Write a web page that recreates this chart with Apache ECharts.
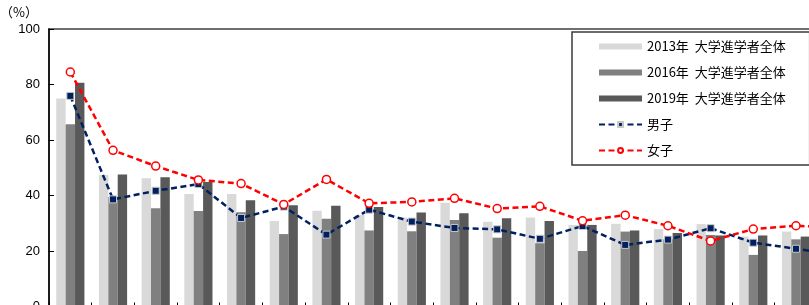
<!DOCTYPE html>
<html>
<head>
<meta charset="utf-8">
<script src="https://cdn.jsdelivr.net/npm/echarts@6/dist/echarts.min.js"></script>
<style>
  html, body { margin: 0; padding: 0; background: #fff; }
  #chart { width: 809px; height: 305px; }
</style>
</head>
<body>
<div id="chart"></div>
<script>
// categories (names are below the visible area of the picture)
const categories = ['1', '2', '3', '4', '5', '6', '7', '8', '9', '10',
    '11', '12', '13', '14', '15', '16', '17', '18', '19'];
const seriesNames = ['2013年  大学進学者全体', '2016年  大学進学者全体', '2019年  大学進学者全体', '男子', '女子'];
const yTicks = [0, 20, 40, 60, 80, 100];

const all2013 = [75.0, 47.4, 46.2, 40.5, 40.5, 30.8, 34.5, 33.0, 32.1, 37.4, 30.5, 32.1, 29.4, 29.8, 27.9, 29.7, 25.2, 27.0, null];
const all2016 = [65.7, 39.5, 35.4, 34.4, 34.0, 26.1, 31.6, 27.4, 27.1, 31.2, 24.8, 22.8, 20.0, 27.0, 24.2, 25.8, 18.6, 24.2, null];
const all2019 = [80.6, 47.6, 46.6, 44.9, 38.3, 36.5, 36.3, 35.9, 33.9, 33.6, 31.8, 30.8, 29.4, 27.4, 26.5, 25.6, 25.6, 25.2, null];
const male = [75.9, 38.6, 41.7, 44.1, 31.9, 36.0, 25.9, 34.9, 30.6, 28.3, 27.8, 24.4, 29.0, 22.2, 24.1, 28.2, 23.0, 20.8, 18.5];
const female = [84.5, 56.3, 50.6, 45.6, 44.3, 36.8, 45.8, 37.2, 37.7, 39.0, 35.3, 36.1, 30.9, 32.9, 29.1, 23.6, 27.9, 29.1, 28.4];

class ShareChart {
    constructor(domId) {
        this.dom = document.getElementById(domId);
    }
    build() {
        let chart = echarts.init(this.dom, null, { renderer: 'canvas' });
        let option = {};
        option.animation = false;
        this.setTitle(option);
        this.setLegend(option);
        this.setGrid(option);
        this.setXAxis(option);
        this.setYAxis(option);
        this.setSeries(option);
        chart.setOption(option, true);
    }
    setTitle(option) {
        option.title = {
            text: '（%）',
            left: 0,
            top: 6,
            padding: [0, 0, 0, 0],
            textStyle: { fontSize: 13, fontWeight: 'normal', color: '#000', fontFamily: 'Noto Sans CJK JP' }
        };
    }
    setLegend(option) {
        option.legend = {
            orient: 'vertical',
            left: 572,
            top: 32,
            padding: [8, 24, 8, 26],
            itemWidth: 43,
            itemHeight: 6,
            itemGap: 13,
            borderColor: '#3a3a3a',
            borderWidth: 1.5,
            backgroundColor: '#fff',
            textStyle: { fontSize: 13, color: '#000', fontFamily: 'Noto Sans CJK JP' },
            data: [
                { name: seriesNames[0], icon: 'rect' },
                { name: seriesNames[1], icon: 'rect' },
                { name: seriesNames[2], icon: 'rect' },
                { name: seriesNames[3] },
                { name: seriesNames[4] }
            ]
        };
    }
    setGrid(option) {
        // the plot runs past the right and bottom edges of the picture
        option.grid = {
            left: 49,
            top: 29,
            width: 811,
            height: 277.5,
            outerBoundsMode: 'none',
            show: true,
            borderColor: '#404040',
            borderWidth: 1.5,
            containLabel: false
        };
    }
    setXAxis(option) {
        option.xAxis = {
            type: 'category',
            data: categories,
            axisLine: { lineStyle: { color: '#000', width: 1.5 } },
            axisTick: { show: true, inside: true, length: 4, lineStyle: { color: '#000' } },
            axisLabel: { show: false }
        };
    }
    setYAxis(option) {
        option.yAxis = {
            type: 'value',
            min: yTicks[0],
            max: yTicks[yTicks.length - 1],
            interval: 20,
            axisLine: { show: true, lineStyle: { color: '#000', width: 1.5 } },
            axisTick: { show: true, inside: true, length: 5, lineStyle: { color: '#000' } },
            splitLine: { show: false },
            axisLabel: {
                fontSize: 13,
                color: '#000',
                margin: 9,
                fontFamily: 'Liberation Sans'
            }
        };
    }
    setSeries(option) {
        const bar = (name, data, color) => ({
            name: name,
            type: 'bar',
            data: data,
            barGap: '0%',
            barCategoryGap: '34%',
            itemStyle: { color: color },
            z: 2
        });
        const dash = [6, 3.5];
        option.series = [
            bar(seriesNames[0], all2013, '#d9d9d9'),
            bar(seriesNames[1], all2016, '#808080'),
            bar(seriesNames[2], all2019, '#595959'),
            {
                name: seriesNames[3],
                type: 'line',
                data: male,
                symbol: 'rect',
                symbolSize: 7,
                lineStyle: { color: '#002060', width: 2.5, type: dash },
                itemStyle: { color: '#002060', borderColor: '#c8c8c8', borderWidth: 1 },
                z: 5
            },
            {
                name: seriesNames[4],
                type: 'line',
                data: female,
                symbol: 'circle',
                symbolSize: 8,
                lineStyle: { color: '#ff0000', width: 2.5, type: dash },
                itemStyle: { color: '#fff', borderColor: '#ff0000', borderWidth: 1.5 },
                z: 6
            }
        ];
    }
}

new ShareChart('chart').build();
</script>
</body>
</html>
